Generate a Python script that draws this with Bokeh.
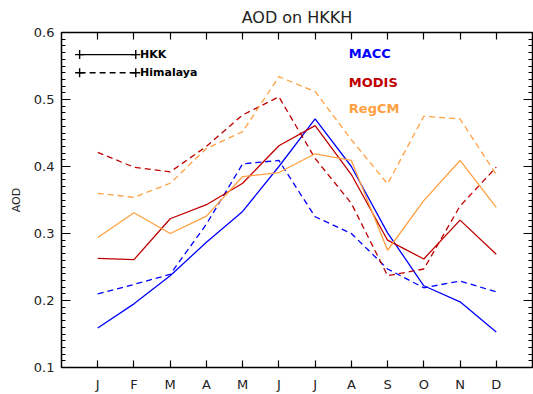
from bokeh.plotting import figure
from bokeh.models import LinearAxis, FixedTicker, Range1d, CustomJSTickFormatter
from bokeh.core.properties import value
from bokeh.embed import file_html
from bokeh.resources import INLINE

# ---- data ----
month_pos = [1, 2, 3, 4, 5, 6, 7, 8, 9, 10, 11, 12]
month_labels = ["J", "F", "M", "A", "M", "J", "J", "A", "S", "O", "N", "D"]

macc_hkk = [0.159, 0.195, 0.237, 0.287, 0.333, 0.400, 0.471, 0.400, 0.301, 0.222, 0.198, 0.153]
macc_him = [0.210, 0.224, 0.239, 0.314, 0.404, 0.409, 0.325, 0.300, 0.247, 0.219, 0.229, 0.213]
modis_hkk = [0.263, 0.261, 0.322, 0.343, 0.375, 0.431, 0.461, 0.388, 0.290, 0.262, 0.320, 0.269]
modis_him = [0.421, 0.399, 0.392, 0.430, 0.477, 0.504, 0.412, 0.345, 0.237, 0.247, 0.341, 0.399]
regcm_hkk = [0.294, 0.331, 0.300, 0.326, 0.385, 0.391, 0.419, 0.409, 0.275, 0.349, 0.409, 0.339]
regcm_him = [0.360, 0.354, 0.375, 0.427, 0.452, 0.534, 0.512, 0.440, 0.374, 0.475, 0.471, 0.388]

y_major = [0.1, 0.2, 0.3, 0.4, 0.5, 0.6]
y_minor = [round(0.1 + 0.01 * i, 2) for i in range(51)]

series_names = ["MACC", "MODIS", "RegCM"]
series_colors = ["#0000ff", "#c00000", "#ffa040"]
legend_names = ["HKK", "Himalaya"]

FONT = "DejaVu Sans"

p = figure(width=533, height=394, output_backend="svg", toolbar_location=None,
           x_range=Range1d(0, 13), y_range=Range1d(0.1, 0.6),
           min_border_left=61, min_border_right=1, min_border_top=4, min_border_bottom=2,
           title="AOD on HKKH")
p.title.align = "center"
p.title.text_font = FONT
p.title.text_font_size = "16px"
p.title.text_font_style = "normal"
p.title.text_color = "#222222"
p.title.offset = 0
p.title.standoff = 11
p.xgrid.visible = False
p.ygrid.visible = False
p.outline_line_color = None
p.background_fill_color = "white"
p.border_fill_color = "white"

empty_fmt_top = CustomJSTickFormatter(code="return ''")
empty_fmt_right = CustomJSTickFormatter(code="return ''")

def style_axis(ax):
    ax.axis_line_color = "black"
    ax.axis_line_width = 1.5
    ax.major_tick_line_color = "black"
    ax.minor_tick_line_color = "black"
    ax.major_tick_line_width = 1.2
    ax.minor_tick_line_width = 1
    ax.major_tick_out = 0
    ax.minor_tick_out = 0
    ax.major_label_text_font = FONT
    ax.major_label_text_font_size = "13px"
    ax.major_label_text_color = "#222222"

# bottom axis
xa = p.xaxis[0]
xa.ticker = FixedTicker(ticks=month_pos)
xa.major_label_overrides = {m: l for m, l in zip(month_pos, month_labels)}
style_axis(xa)
xa.major_tick_in = 7
xa.minor_tick_line_color = None
xa.major_label_standoff = 9
xa.major_label_text_line_height = 0.9

# left axis
ya = p.yaxis[0]
ya.ticker = FixedTicker(ticks=y_major, minor_ticks=y_minor)
style_axis(ya)
ya.major_tick_in = 9
ya.minor_tick_in = 4
ya.major_label_standoff = 7
ya.axis_label = "AOD"
ya.axis_label_text_font = FONT
ya.axis_label_text_font_size = "11px"
ya.axis_label_text_font_style = "normal"
ya.axis_label_text_color = "#222222"
ya.axis_label_standoff = 8

# top axis (ticks only)
ta = LinearAxis(ticker=FixedTicker(ticks=month_pos), formatter=empty_fmt_top)
style_axis(ta)
ta.major_label_standoff = 0
ta.major_tick_in = 7
ta.minor_tick_line_color = None
p.add_layout(ta, "above")

# right axis (ticks only)
ra = LinearAxis(ticker=FixedTicker(ticks=y_major, minor_ticks=y_minor), formatter=empty_fmt_right)
style_axis(ra)
ra.major_label_standoff = 0
ra.major_tick_in = 9
ra.minor_tick_in = 4
p.add_layout(ra, "right")

# data lines
hkk = [macc_hkk, modis_hkk, regcm_hkk]
him = [macc_him, modis_him, regcm_him]
for name, col, s_hkk, s_him in zip(series_names, series_colors, hkk, him):
    p.line(month_pos, s_hkk, line_color=col, line_width=1.3)
    p.line(month_pos, s_him, line_color=col, line_width=1.3, line_dash="6 4")

# legend for line styles (top-left)
leg_x0, leg_x1 = 0.50, 2.05
leg_y = [0.567, 0.540]
dashes = ["solid", "6 4"]
for yy, dsh, lab in zip(leg_y, dashes, legend_names):
    p.line([leg_x0, leg_x1], [yy, yy], line_color="black", line_width=1.4, line_dash=dsh)
    p.scatter([leg_x0, leg_x1], [yy, yy], marker="cross", size=9, line_color="black", line_width=1.4)
    p.text([leg_x1 + 0.12], [yy], text=[lab], text_font=value(FONT), text_font_size="11px",
           text_font_style="bold", text_baseline="middle", text_align="left", text_color="black")

# series name labels
lab_x = 7.93
lab_y = [0.568, 0.526, 0.486]
for yy, nm, col in zip(lab_y, series_names, series_colors):
    p.text([lab_x], [yy], text=[nm], text_font=value(FONT), text_font_size="13px",
           text_font_style="bold", text_baseline="middle", text_align="left", text_color=col)

open("out.html", "w").write(file_html(p, INLINE))
